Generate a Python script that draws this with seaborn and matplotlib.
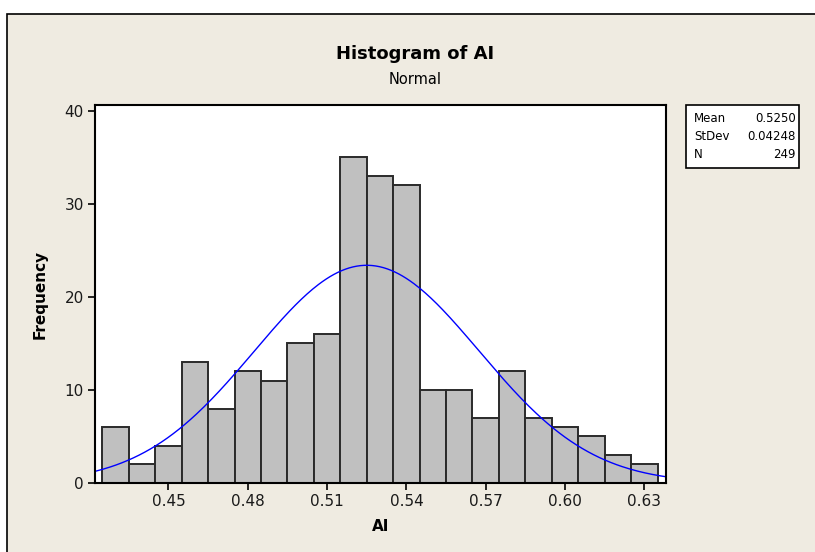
import numpy as np
import pandas as pd
import matplotlib
matplotlib.use("Agg")
import matplotlib.pyplot as plt
from matplotlib.patches import Rectangle
import seaborn as sns

# Data
bin_centers = [0.43, 0.44, 0.45, 0.46, 0.47, 0.48, 0.49, 0.50, 0.51, 0.52, 0.53,
               0.54, 0.55, 0.56, 0.57, 0.58, 0.59, 0.60, 0.61, 0.62, 0.63]
counts = [6, 2, 4, 13, 8, 12, 11, 15, 16, 35, 33, 32, 10, 10, 7, 12, 7, 6, 5, 3, 2]
bin_width = 0.01
mean = 0.5250
stdev = 0.04248
n_obs = 249
x_ticks = [0.45, 0.48, 0.51, 0.54, 0.57, 0.60, 0.63]
y_ticks = [0, 10, 20, 30, 40]

sns.set_theme(style="white")
plt.rcParams['font.family'] = ['DejaVu Sans']
plt.rcParams['text.color'] = 'black'
plt.rcParams['axes.labelcolor'] = 'black'

fig = plt.figure(figsize=(8.15, 5.52), dpi=100)
fig.patch.set_facecolor("white")
W, H = 815, 552
# beige panel
fig.patches.append(Rectangle((7 / W, -0.01), 1.0, 1.01 - 14 / H, transform=fig.transFigure,
                             facecolor="#EFEBE1", edgecolor="black", linewidth=1.2,
                             zorder=-10))

ax = fig.add_axes([95 / W, 1 - 483 / H, (666 - 95) / W, (483 - 105) / H])
ax.set_facecolor("white")
ax.set_zorder(1)

df = pd.DataFrame({"AI": bin_centers, "count": counts})
lo = bin_centers[0] - bin_width / 2
hi = bin_centers[-1] + bin_width / 2
sns.histplot(data=df, x="AI", weights="count", binwidth=bin_width, binrange=(lo, hi),
             ax=ax, color="#C0C0C0", edgecolor="#2a2a2a", linewidth=1.4, alpha=1.0)

xlo, xhi = 0.4222, 0.6382
xs = np.linspace(xlo, xhi, 300)
ys = n_obs * bin_width / (stdev * np.sqrt(2 * np.pi)) * np.exp(-0.5 * ((xs - mean) / stdev) ** 2)
sns.lineplot(x=xs, y=ys, ax=ax, color="#0000FF", linewidth=1.0)

ax.set_xlim(xlo, xhi)
ax.set_ylim(0, 40.6)
ax.set_xticks(x_ticks)
ax.set_xticklabels([f"{v:.2f}" for v in x_ticks])
ax.set_yticks(y_ticks)
ax.tick_params(axis="both", direction="out", length=5, width=1.2, color="black",
               labelsize=11, labelcolor="#1a1a1a", bottom=True, left=True, pad=3)
for s in ax.spines.values():
    s.set_color("black")
    s.set_linewidth(1.5)
ax.set_xlabel("AI", fontsize=11, fontweight="bold", labelpad=7)
ax.set_ylabel("Frequency", fontsize=11, fontweight="bold", labelpad=12)

fig.text(415 / W, 1 - 54 / H, "Histogram of AI", ha="center", va="center",
         fontsize=13, fontweight="bold")
fig.text(415 / W, 1 - 79 / H, "Normal", ha="center", va="center", fontsize=10.5)

# stats box
bx0, by0, bx1, by1 = 686, 104.5, 799, 168
fig.patches.append(Rectangle((bx0 / W, 1 - by1 / H), (bx1 - bx0) / W, (by1 - by0) / H,
                             transform=fig.transFigure, facecolor="white",
                             edgecolor="black", linewidth=1.2, zorder=2))
labels = ["Mean", "StDev", "N"]
values = [f"{mean:.4f}", f"{stdev:.5f}", f"{n_obs}"]
for i, (lab, val) in enumerate(zip(labels, values)):
    yy = 1 - (119 + i * 17.5) / H
    fig.text(694 / W, yy, lab, ha="left", va="center", fontsize=8.5, zorder=3)
    fig.text(796 / W, yy, val, ha="right", va="center", fontsize=8.5, zorder=3)

fig.savefig("out.png", dpi=100, facecolor=fig.get_facecolor())
